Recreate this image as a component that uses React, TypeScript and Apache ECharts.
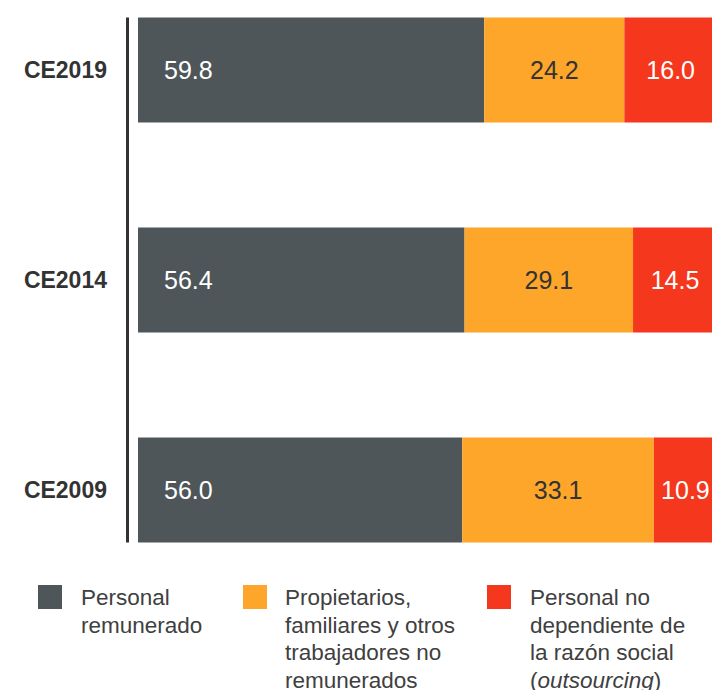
import React, { useEffect, useRef } from "react";
import * as echarts from "echarts";

const categories = ["CE2009", "CE2014", "CE2019"];
const remunerado = [56.0, 56.4, 59.8];
const propietarios = [33.1, 29.1, 24.2];
const outsourcing = [10.9, 14.5, 16.0];
const seriesNames = [
  "Personal\nremunerado",
  "Propietarios,\nfamiliares y otros\ntrabajadores no\nremunerados",
  "Personal no\ndependiente de\nla razón social\n({i|outsourcing})",
];
const colors = ["#4F5659", "#FDA629", "#F5371E"];
const labelColors = ["#ffffff", "#333333", "#ffffff"];

const FONT = "'Liberation Sans', Arial, Helvetica, sans-serif";
const SHIFT = 35;

export default function App() {
  const ref = useRef<HTMLDivElement>(null);
  useEffect(() => {
    if (!ref.current) return;
    const chart = echarts.init(ref.current, undefined, { renderer: "svg" });
    const data = [remunerado, propietarios, outsourcing];
    const legendX = [38, 243, 487];
    const legendGraphics: any[] = [];
    seriesNames.forEach((n, i) => {
      legendGraphics.push({
        type: "rect",
        shape: { x: legendX[i], y: 585 + SHIFT, width: 24, height: 24 },
        style: { fill: colors[i] },
      });
      legendGraphics.push({
        type: "text",
        x: legendX[i] + 43 - (i === 1 ? 1 : 0),
        y: 584 + SHIFT,
        style: {
          text: n,
          fill: "#404040",
          fontSize: 22.5,
          fontFamily: FONT,
          lineHeight: 27.5,
          verticalAlign: "top",
          rich: {
            i: { fontStyle: "italic", fontSize: 22.5, fontFamily: FONT, lineHeight: 27.5, fill: "#404040" },
          },
        },
      });
    });
    chart.setOption({
      animation: false,
      grid: { left: 138, top: 0, width: 579, height: 630 },
      xAxis: { type: "value", min: 0, max: 100, show: false },
      yAxis: {
        type: "category",
        data: categories,
        axisLine: { show: false },
        axisTick: { show: false },
        splitLine: { show: false },
        axisLabel: {
          margin: 31,
          color: "#333",
          fontSize: 23,
          fontWeight: "bold",
          fontFamily: FONT,
        },
      },
      series: data.map((d, i) => ({
        type: "bar",
        stack: "total",
        name: seriesNames[i],
        data: d,
        barWidth: 105,
        itemStyle: { color: colors[i] },
        label: {
          show: true,
          position: i === 0 ? "insideLeft" : "inside",
          distance: i === 0 ? 26 : 5,
          color: labelColors[i],
          fontSize: 25,
          fontFamily: FONT,
          formatter: (p: any) => Number(p.value).toFixed(1),
        },
      })),
      graphic: legendGraphics,
    });
    const top = chart.convertToPixel({ yAxisIndex: 0 }, categories[categories.length - 1]) as number;
    const bottom = chart.convertToPixel({ yAxisIndex: 0 }, categories[0]) as number;
    const left = chart.convertToPixel({ xAxisIndex: 0 }, 0) as number;
    chart.setOption({
      graphic: [
        ...legendGraphics,
        {
          type: "line",
          shape: { x1: left - 10.5, y1: top - 52.5, x2: left - 10.5, y2: bottom + 52.5 },
          style: { stroke: "#333", lineWidth: 3 },
        },
      ],
    });
    return () => chart.dispose();
  }, []);
  return (
    <div style={{ position: "fixed", left: 0, top: 0, width: 712, height: 690, overflow: "hidden", background: "#fff" }}>
      <div
        ref={ref}
        style={{ position: "absolute", left: 0, top: -SHIFT, width: 720, height: 690 + SHIFT }}
      />
    </div>
  );
}
